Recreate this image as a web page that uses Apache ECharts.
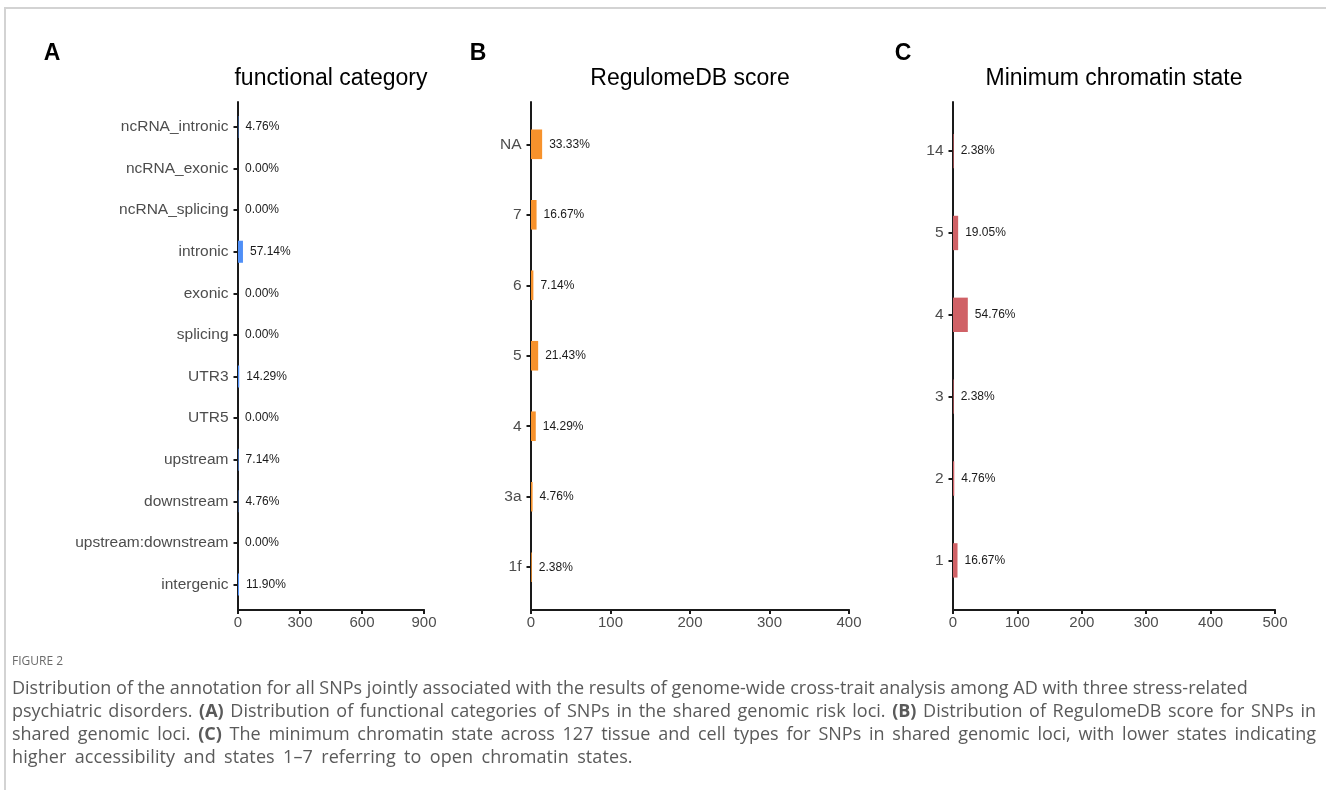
<!DOCTYPE html>
<html>
<head>
<meta charset="utf-8">
<script src="https://cdn.jsdelivr.net/npm/echarts@6/dist/echarts.min.js"></script>
<style>
  html, body { margin: 0; padding: 0; background: #fff; }
  #wrap { position: relative; width: 1326px; height: 790px; overflow: hidden; }
  #frame { position: absolute; left: 4px; top: 7px; width: 1330px; height: 800px;
           border-top: 2px solid #d3d3d3; border-left: 2px solid #d3d3d3; }
  #chart { position: absolute; left: 0; top: 0; width: 1326px; height: 790px; }
  #caption { position: absolute; left: 12px; top: 652px; width: 1304px;
             font-family: "Open Sans", "Noto Sans", sans-serif; color: #5a5a5a; white-space: nowrap; }
  #caption .fig { font-size: 12px; line-height: 18px; color: #6a6a6a; }
  #caption .txt { font-size: 18px; line-height: 23px; margin-top: 6px; }
  #caption .txt div { height: 23px; }
  #caption .txt .just { text-align: justify; text-align-last: justify; }
  #caption .txt .last { word-spacing: 3.5px; letter-spacing: 0.1px; }
  #caption b { font-weight: 700; }
</style>
</head>
<body>
<div id="wrap">
  <div id="frame"></div>
  <div id="chart"></div>
  <div id="caption">
    <div class="fig">FIGURE 2</div>
    <div class="txt">
      <div>Distribution of the annotation for all SNPs jointly associated with the results of genome-wide cross-trait analysis among AD with three stress-related</div>
      <div class="just">psychiatric disorders. <b>(A)</b> Distribution of functional categories of SNPs in the shared genomic risk loci. <b>(B)</b> Distribution of RegulomeDB score for SNPs in</div>
      <div class="just">shared genomic loci. <b>(C)</b> The minimum chromatin state across 127 tissue and cell types for SNPs in shared genomic loci, with lower states indicating</div>
      <div class="last">higher accessibility and states 1–7 referring to open chromatin states.</div>
    </div>
  </div>
</div>
<script>
// panel A - functional category
var funcCategories = ['ncRNA_intronic', 'ncRNA_exonic', 'ncRNA_splicing', 'intronic', 'exonic', 'splicing',
  'UTR3', 'UTR5', 'upstream', 'downstream', 'upstream:downstream', 'intergenic']
var funcCounts = [2, 0, 0, 24, 0, 0, 6, 0, 3, 2, 0, 5]
var funcPct = ['4.76%', '0.00%', '0.00%', '57.14%', '0.00%', '0.00%', '14.29%', '0.00%', '7.14%', '4.76%', '0.00%', '11.90%']
var funcTicks = [0, 300, 600, 900]

// panel B - RegulomeDB score
var regCategories = ['NA', '7', '6', '5', '4', '3a', '1f']
var regCounts = [14, 7, 3, 9, 6, 2, 1]
var regPct = ['33.33%', '16.67%', '7.14%', '21.43%', '14.29%', '4.76%', '2.38%']
var regTicks = [0, 100, 200, 300, 400]

// panel C - minimum chromatin state
var chromCategories = ['14', '5', '4', '3', '2', '1']
var chromCounts = [1, 8, 23, 1, 2, 7]
var chromPct = ['2.38%', '19.05%', '54.76%', '2.38%', '4.76%', '16.67%']
var chromTicks = [0, 100, 200, 300, 400, 500]

var FONT = '"Liberation Sans", Arial, Helvetica, sans-serif'
var AXIS_COLOR = '#1a1a1a'
var LABEL_COLOR = '#4d4d4d'

var panels = [
  { letter: 'A', title: 'functional category', cats: funcCategories, vals: funcCounts, pct: funcPct, ticks: funcTicks,
    left: 238, right: 424, color: '#4f8ff7', barWidth: '53%', letterX: 52 },
  { letter: 'B', title: 'RegulomeDB score', cats: regCategories, vals: regCounts, pct: regPct, ticks: regTicks,
    left: 531, right: 849, color: '#f7922c', barWidth: '42%', letterX: 478 },
  { letter: 'C', title: 'Minimum chromatin state', cats: chromCategories, vals: chromCounts, pct: chromPct, ticks: chromTicks,
    left: 953, right: 1275, color: '#d06166', barWidth: '42%', letterX: 903 }
]

var W = 1326
var H = 790
var axisTop = 102
var axisBottom = 609.5

var grids = []
var xAxes = []
var yAxes = []
var series = []
var graphics = []

panels.forEach(function (p, i) {
  var len = axisBottom - axisTop
  // ggplot style discrete expansion (0.6 band each side)
  var inset = 0.1 * len / (p.cats.length + 0.2)
  var maxTick = p.ticks[p.ticks.length - 1]
  var step = p.ticks[1] - p.ticks[0]

  // outer grid: visible axis lines + numeric ticks
  grids.push({ left: p.left, right: W - p.right, top: axisTop, bottom: H - axisBottom, containLabel: false })
  // inner grid: the bars and category labels
  grids.push({ left: p.left, right: W - p.right, top: axisTop + inset, bottom: H - axisBottom + inset, containLabel: false })

  xAxes.push({
    type: 'value', gridIndex: 2 * i, min: 0, max: maxTick, interval: step,
    axisLine: { show: true, lineStyle: { color: AXIS_COLOR, width: 2 } },
    axisTick: { show: true, length: 4.5, lineStyle: { color: AXIS_COLOR, width: 2 } },
    axisLabel: { show: true, margin: 6, fontSize: 15, color: LABEL_COLOR, fontFamily: FONT },
    splitLine: { show: false }
  })
  xAxes.push({ type: 'value', gridIndex: 2 * i + 1, min: 0, max: maxTick, show: false })

  yAxes.push({
    type: 'value', gridIndex: 2 * i, min: 0, max: 1,
    axisLine: { show: true, lineStyle: { color: AXIS_COLOR, width: 2 } },
    axisTick: { show: false }, axisLabel: { show: false }, splitLine: { show: false }
  })
  yAxes.push({
    type: 'category', gridIndex: 2 * i + 1, data: p.cats, inverse: true,
    axisLine: { show: false },
    axisTick: { show: true, alignWithLabel: true, length: 4.5, lineStyle: { color: AXIS_COLOR, width: 2 } },
    axisLabel: { margin: 9.5, fontSize: 15.5, color: LABEL_COLOR, fontFamily: FONT, interval: 0 },
    splitLine: { show: false }
  })

  series.push({
    type: 'bar', xAxisIndex: 2 * i + 1, yAxisIndex: 2 * i + 1,
    data: p.vals, barWidth: p.barWidth,
    itemStyle: { color: p.color },
    label: {
      show: true, position: 'right', distance: 7,
      fontSize: 12, color: '#1a1a1a', fontFamily: FONT,
      formatter: function (params) { return p.pct[params.dataIndex] }
    },
    z: 1
  })

  graphics.push({
    type: 'text', x: p.letterX, y: 54,
    style: { text: p.letter, font: 'bold 23px ' + FONT, fill: '#000', align: 'center', verticalAlign: 'middle' }
  })
  graphics.push({
    type: 'text', x: (p.left + p.right) / 2, y: 79,
    style: { text: p.title, font: '23px ' + FONT, fill: '#000', align: 'center', verticalAlign: 'middle' }
  })
})

var chart = echarts.init(document.getElementById('chart'), null, { renderer: 'canvas' })
chart.setOption({
  animation: false,
  backgroundColor: 'transparent',
  grid: grids,
  xAxis: xAxes,
  yAxis: yAxes,
  series: series,
  graphic: graphics
})
</script>
</body>
</html>
